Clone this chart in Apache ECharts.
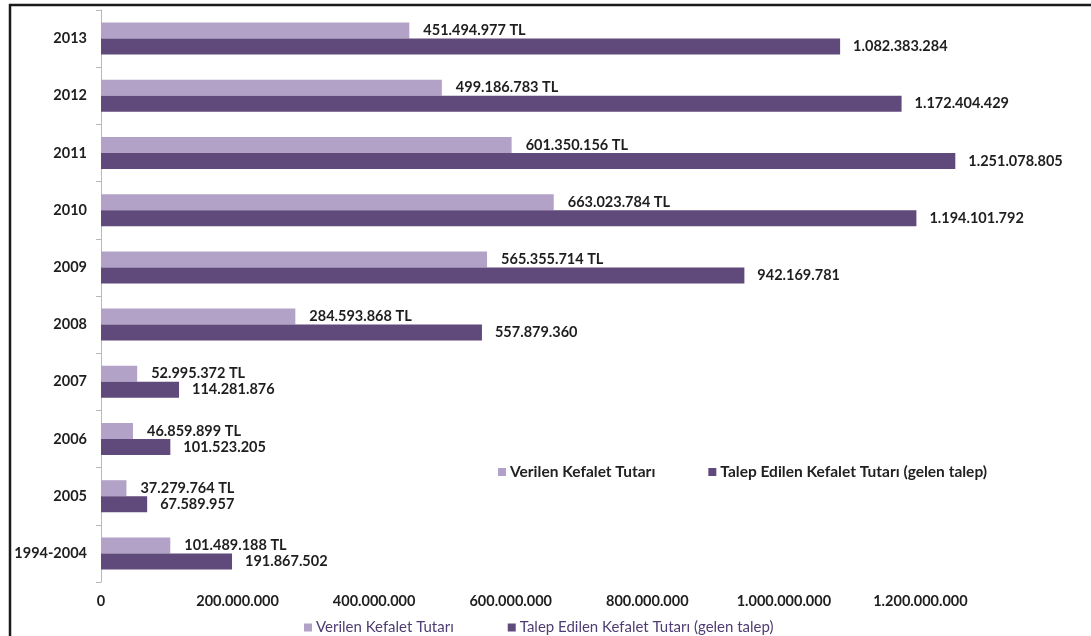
<!DOCTYPE html>
<html>
<head>
<meta charset="utf-8">
<script src="https://cdn.jsdelivr.net/npm/echarts@6/dist/echarts.min.js"></script>
<style>
  html, body { margin: 0; padding: 0; background: #fff; }
  #chart { width: 1091px; height: 636px; }
</style>
</head>
<body>
<div id="chart"></div>
<script>
// Years shown top to bottom
const categories = ['2013', '2012', '2011', '2010', '2009', '2008', '2007', '2006', '2005', '1994-2004'];

// Guarantee amounts granted (TL)
const verilen = [451494977, 499186783, 601350156, 663023784, 565355714, 284593868, 52995372, 46859899, 37279764, 101489188];

// Guarantee amounts requested (incoming requests)
const talep = [1082383284, 1172404429, 1251078805, 1194101792, 942169781, 557879360, 114281876, 101523205, 67589957, 191867502];

const seriesNames = ['Verilen Kefalet Tutarı', 'Talep Edilen Kefalet Tutarı (gelen talep)'];

const FONT = 'Lato, "Open Sans", sans-serif';

// 1.234.567 style grouping
function dotted(v) {
  return String(Math.round(v)).replace(/\B(?=(\d{3})+(?!\d))/g, '.');
}

const chart = echarts.init(document.getElementById('chart'), null, { renderer: 'canvas' });

chart.setOption({
  animation: false,
  backgroundColor: '#ffffff',
  textStyle: { fontFamily: FONT },
  grid: { left: 101, right: 34, top: 10, bottom: 54, containLabel: false },
  legend: [
    {
      data: seriesNames,
      left: 493, top: 459,
      icon: 'rect', itemWidth: 8, itemHeight: 8, itemGap: 53,
      selectedMode: false,
      textStyle: { fontFamily: FONT, fontWeight: 'bold', fontSize: 15.5, color: '#222222', padding: [0, 0, 0, -1] }
    },
    {
      data: seriesNames,
      left: 299, top: 615,
      icon: 'rect', itemWidth: 8, itemHeight: 8, itemGap: 54,
      selectedMode: false,
      textStyle: { fontFamily: FONT, fontSize: 15, color: '#4e3d72', padding: [0, 0, 0, -1] }
    }
  ],
  xAxis: {
    type: 'value',
    min: 0,
    max: 1400000000,
    interval: 200000000,
    axisLine: { show: false },
    axisTick: { show: false },
    splitLine: { show: false },
    axisLabel: {
      showMaxLabel: false,
      margin: 12,
      fontFamily: FONT, fontWeight: 'bold', fontSize: 14.5, color: '#1e1e1e',
      formatter: v => dotted(v)
    }
  },
  yAxis: {
    type: 'category',
    data: categories,
    inverse: true,
    axisLine: { show: true, lineStyle: { color: '#b8b8b8', width: 1 } },
    axisTick: { show: true, length: 5, lineStyle: { color: '#b8b8b8' } },
    splitLine: { show: false },
    axisLabel: {
      margin: 14,
      fontFamily: FONT, fontWeight: 'bold', fontSize: 14.5, color: '#1e1e1e'
    }
  },
  series: [
    {
      name: seriesNames[0],
      type: 'bar',
      data: verilen,
      barWidth: 16,
      barGap: '0%',
      itemStyle: { color: '#b3a2c7' },
      label: {
        show: true, position: 'right', distance: 14,
        fontFamily: FONT, fontWeight: 'bold', fontSize: 14.5, color: '#1e1e1e',
        formatter: p => dotted(p.value) + ' TL'
      }
    },
    {
      name: seriesNames[1],
      type: 'bar',
      data: talep,
      barWidth: 16,
      barGap: '0%',
      itemStyle: { color: '#604a7b' },
      label: {
        show: true, position: 'right', distance: 13,
        fontFamily: FONT, fontWeight: 'bold', fontSize: 14.5, color: '#1e1e1e',
        formatter: p => dotted(p.value)
      }
    }
  ],
  graphic: [
    // frame edges along the top and left
    { type: 'line', shape: { x1: 9, y1: 5, x2: 1091, y2: 5 }, style: { stroke: '#1a1a1a', lineWidth: 2.5 } },
    { type: 'line', shape: { x1: 10, y1: 4, x2: 10, y2: 636 }, style: { stroke: '#1a1a1a', lineWidth: 2.5 } }
  ]
});
</script>
</body>
</html>
